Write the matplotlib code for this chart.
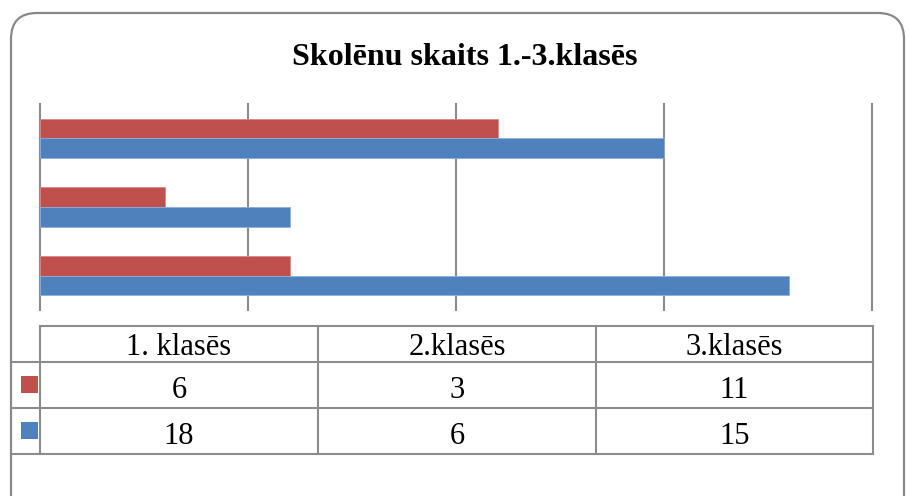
import numpy as np
import matplotlib.pyplot as plt
from matplotlib.patches import FancyBboxPatch, Rectangle

# Chart data
title = 'Skolēnu skaits 1.-3.klasēs'
categories = ['1. klasēs', '2.klasēs', '3.klasēs']
series_red = [6, 3, 11]
series_blue = [18, 6, 15]
x_ticks = [0, 5, 10, 15, 20]

RED = '#C0504D'
BLUE = '#4F81BD'
GRID = '#8C8C8C'
W, H = 910, 496

fig = plt.figure(figsize=(W / 100, H / 100), dpi=100)
fig.patch.set_facecolor('white')

# Overlay axes in pixel coordinates (frame, title, data table)
ov = fig.add_axes([0, 0, 1, 1])
ov.set_xlim(0, W)
ov.set_ylim(H, 0)
ov.axis('off')

frame = FancyBboxPatch((11, 13), 893, 520, boxstyle='round,pad=0,rounding_size=26',
                       facecolor='white', edgecolor='#888888', linewidth=1.6)
ov.add_patch(frame)

ov.text(465, 65, title, ha='center', va='baseline', fontsize=23,
        fontweight='bold', family='Liberation Serif')

# Bar chart axes
ax = fig.add_axes([40 / W, (H - 310) / H, (872 - 40) / W, (310 - 104) / H])
ax.set_facecolor('none')
y = np.arange(len(categories))
bh = 0.286
ax.barh(y + bh / 2, series_red, height=bh, color=RED, edgecolor='#D98A88', linewidth=0.6, zorder=3)
ax.barh(y - bh / 2, series_blue, height=bh, color=BLUE, edgecolor='#8EAEDA', linewidth=0.6, zorder=3)
ax.set_xlim(x_ticks[0], x_ticks[-1])
ax.set_ylim(-0.5, len(categories) - 0.5)
for t in x_ticks:
    ax.axvline(t, color=GRID, linewidth=1.5, zorder=1, clip_on=False)
for s in ax.spines.values():
    s.set_visible(False)
ax.set_xticks([])
ax.set_yticks([])

# Data table below the chart
col_x = [40, 318, 596, 873]
row_y = [326, 362, 408, 454]
baselines = [355, 398, 444]
lw = 1.5
ov.plot([col_x[0], col_x[-1]], [row_y[0], row_y[0]], color=GRID, lw=lw)
for ry in row_y[1:]:
    ov.plot([11, col_x[-1]], [ry, ry], color=GRID, lw=lw)
for cx in col_x:
    ov.plot([cx, cx], [row_y[0], row_y[-1]], color=GRID, lw=lw)

fs = 22
for i, cat in enumerate(categories):
    cx = (col_x[i] + col_x[i + 1]) / 2
    cells = [cat, str(series_red[i]), str(series_blue[i])]
    for txt, by in zip(cells, baselines):
        ov.text(cx, by, txt, ha='center', va='baseline', fontsize=fs,
                family='Liberation Serif')

# Legend keys
ov.add_patch(Rectangle((21, 376), 17, 17, facecolor=RED, edgecolor='none'))
ov.add_patch(Rectangle((21, 422), 17, 17, facecolor=BLUE, edgecolor='none'))

fig.savefig('out.png', dpi=100)
plt.close(fig)
